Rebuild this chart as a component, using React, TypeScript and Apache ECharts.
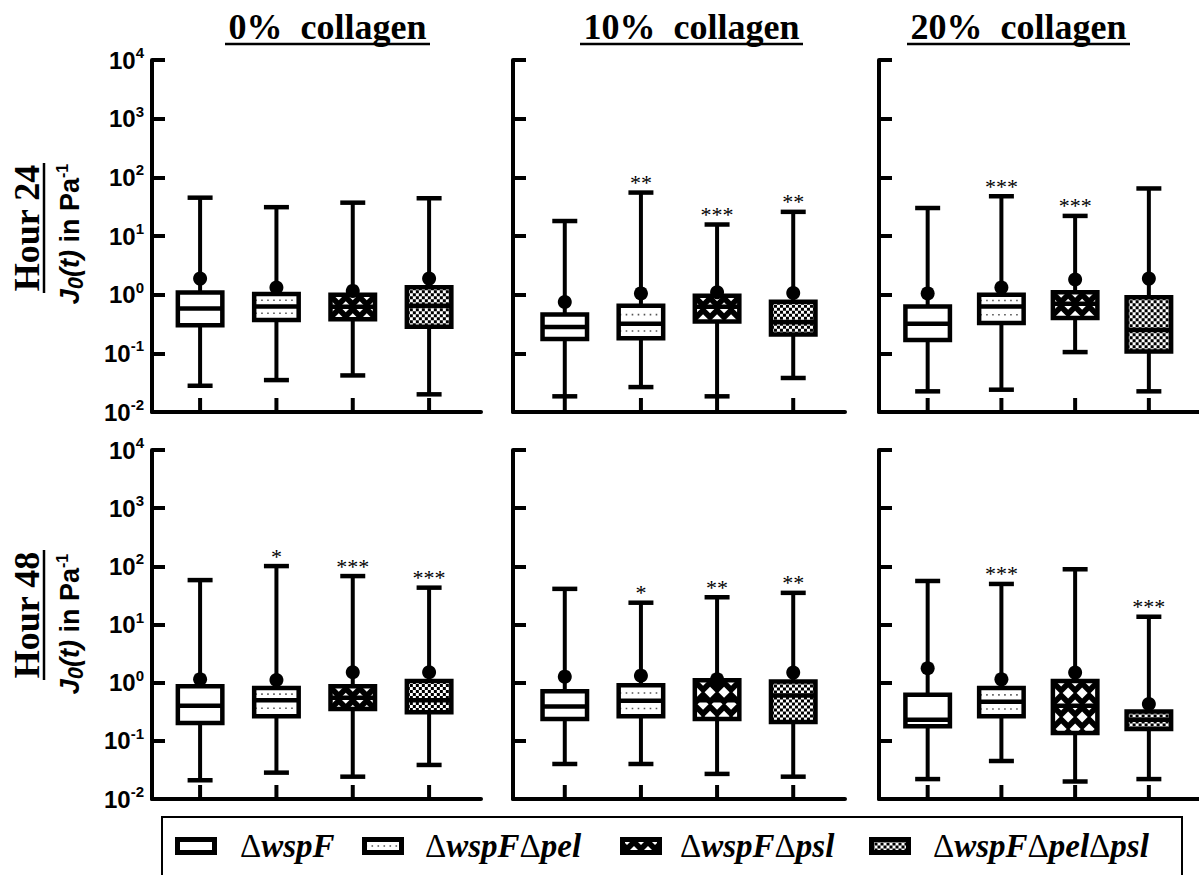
import React, { useEffect, useRef } from 'react';
import * as echarts from 'echarts';

// ---------- data ----------
const categories = ['ΔwspF', 'ΔwspFΔpel', 'ΔwspFΔpsl', 'ΔwspFΔpelΔpsl'];
const fillKinds = ['plain', 'dots', 'diamonds', 'checker'];
const panelTitles = ['0%  collagen', '10%  collagen', '20%  collagen'];
const rowTitles = ['Hour 24', 'Hour 48'];
const yMinValue = 0.01;
const yMaxValue = 10000;

// five-number summaries: [min, Q1, median, Q3, max]
const h24c0 = [
  [0.028, 0.30, 0.58, 1.09, 45],
  [0.035, 0.37, 0.63, 1.03, 31],
  [0.042, 0.38, 0.62, 1.0, 37],
  [0.020, 0.285, 0.65, 1.34, 44],
];
const h24c0Mean = [1.88, 1.32, 1.16, 1.88];
const h24c0Sig = ['', '', '', ''];

const h24c10 = [
  [0.0185, 0.175, 0.28, 0.46, 18],
  [0.0266, 0.18, 0.32, 0.65, 55],
  [0.0185, 0.35, 0.62, 0.96, 15.7],
  [0.038, 0.21, 0.34, 0.76, 25.8],
];
const h24c10Mean = [0.75, 1.05, 1.1, 1.07];
const h24c10Sig = ['', '**', '***', '**'];

const h24c20 = [
  [0.0225, 0.169, 0.32, 0.63, 30],
  [0.024, 0.33, 0.63, 1.0, 47.6],
  [0.105, 0.40, 0.70, 1.1, 22],
  [0.0225, 0.107, 0.25, 0.9, 64.6],
];
const h24c20Mean = [1.05, 1.32, 1.81, 1.88];
const h24c20Sig = ['', '***', '***', ''];

const h48c0 = [
  [0.021, 0.203, 0.40, 0.87, 58],
  [0.0284, 0.264, 0.50, 0.81, 101],
  [0.0242, 0.353, 0.55, 0.87, 68],
  [0.0385, 0.31, 0.50, 1.07, 43],
];
const h48c0Mean = [1.14, 1.11, 1.51, 1.51];
const h48c0Sig = ['', '*', '***', '***'];

const h48c10 = [
  [0.04, 0.238, 0.39, 0.71, 41],
  [0.04, 0.264, 0.49, 0.90, 23.7],
  [0.027, 0.238, 0.50, 1.1, 29.4],
  [0.0242, 0.21, 0.60, 1.05, 35],
];
const h48c10Mean = [1.27, 1.32, 1.14, 1.49];
const h48c10Sig = ['', '*', '**', '**'];

const h48c20 = [
  [0.022, 0.178, 0.23, 0.62, 56],
  [0.045, 0.264, 0.47, 0.81, 49.8],
  [0.02, 0.136, 0.40, 1.07, 89],
  [0.022, 0.16, 0.23, 0.32, 13.6],
];
const h48c20Mean = [1.77, 1.14, 1.49, 0.43];
const h48c20Sig = ['', '***', '', '***'];

const panels = [
  { stats: h24c0, mean: h24c0Mean, sig: h24c0Sig },
  { stats: h24c10, mean: h24c10Mean, sig: h24c10Sig },
  { stats: h24c20, mean: h24c20Mean, sig: h24c20Sig },
  { stats: h48c0, mean: h48c0Mean, sig: h48c0Sig },
  { stats: h48c10, mean: h48c10Mean, sig: h48c10Sig },
  { stats: h48c20, mean: h48c20Mean, sig: h48c20Sig },
];

// ---------- layout ----------
const gridLeft = [152, 513, 879];
const gridWidth = [329, 332, 330];
const rowTop = [60, 450];
const rowHeight = [352, 349];
const xMinArr = [-0.63, -0.68, -0.66];
const xMaxArr = [3.68, 3.68, 3.68];

const SERIF = '"Liberation Serif", "Times New Roman", serif';
const SANS = '"Liberation Sans", Arial, sans-serif';

// ---------- pattern helpers ----------
function clipPoly(pts: number[][], x0: number, y0: number, x1: number, y1: number) {
  const planes = [
    { inside: (p: number[]) => p[0] >= x0, inter: (a: number[], b: number[]) => { const t = (x0 - a[0]) / (b[0] - a[0]); return [x0, a[1] + t * (b[1] - a[1])]; } },
    { inside: (p: number[]) => p[0] <= x1, inter: (a: number[], b: number[]) => { const t = (x1 - a[0]) / (b[0] - a[0]); return [x1, a[1] + t * (b[1] - a[1])]; } },
    { inside: (p: number[]) => p[1] >= y0, inter: (a: number[], b: number[]) => { const t = (y0 - a[1]) / (b[1] - a[1]); return [a[0] + t * (b[0] - a[0]), y0]; } },
    { inside: (p: number[]) => p[1] <= y1, inter: (a: number[], b: number[]) => { const t = (y1 - a[1]) / (b[1] - a[1]); return [a[0] + t * (b[0] - a[0]), y1]; } },
  ];
  let out = pts;
  for (const pl of planes) {
    const inp = out;
    out = [];
    if (!inp.length) break;
    for (let i = 0; i < inp.length; i++) {
      const cur = inp[i];
      const prev = inp[(i + inp.length - 1) % inp.length];
      const ci = pl.inside(cur);
      const pi = pl.inside(prev);
      if (ci) {
        if (!pi) out.push(pl.inter(prev, cur));
        out.push(cur);
      } else if (pi) {
        out.push(pl.inter(prev, cur));
      }
    }
  }
  return out;
}

function fillElements(kind: string, x0: number, y0: number, x1: number, y1: number, yMed: number | null) {
  const els: any[] = [];
  const w = x1 - x0;
  const h = y1 - y0;
  if (h <= 0 || w <= 0) return els;
  if (kind === 'diamonds') {
    els.push({ type: 'rect', shape: { x: x0, y: y0, width: w, height: h }, style: { fill: '#000' } });
    const xc = (x0 + x1) / 2;
    const P = 14, V = 12, r = 5.5;
    for (let j = 0; y0 + j * V - r <= y1; j++) {
      const cy = y0 + j * V;
      const off = j % 2 ? P / 2 : 0;
      for (let k = -5; k <= 5; k++) {
        const cxd = xc + k * P + off;
        if (cxd + r < x0 || cxd - r > x1) continue;
        const pts = clipPoly([[cxd, cy - r], [cxd + r, cy], [cxd, cy + r], [cxd - r, cy]], x0, y0, x1, y1);
        if (pts.length >= 3) els.push({ type: 'polygon', shape: { points: pts }, style: { fill: '#fff' } });
      }
    }
    return els;
  }
  els.push({ type: 'rect', shape: { x: x0, y: y0, width: w, height: h }, style: { fill: '#fff' } });
  if (kind === 'dots') {
    const sections = yMed == null ? [[y0, y1]] : [[y0, yMed], [yMed, y1]];
    for (const [a, b] of sections) {
      const yy = (a + b) / 2;
      els.push({
        type: 'line',
        shape: { x1: x0 + 1, y1: yy, x2: x1 - 1, y2: yy },
        style: { stroke: '#555', lineWidth: 1.6, lineDash: [1.6, 4.4] },
      });
    }
  } else if (kind === 'checker') {
    const c = 3;
    let r = 0;
    for (let y = y0; y < y1; y += c, r++) {
      const hh = Math.min(c, y1 - y);
      els.push({
        type: 'line',
        shape: { x1: x0, y1: y + hh / 2, x2: x1, y2: y + hh / 2 },
        style: { stroke: '#000', lineWidth: hh, lineDash: [c, c], lineDashOffset: r % 2 ? c : 0 },
      });
    }
  }
  return els;
}

const BOX_HALF = 22.25;
const BOX_STROKE = 4.5;
const CAP_HALF = 12.5;
const LINE_W = 4;

function makeRenderItem(panelIndex: number) {
  return (params: any, api: any) => {
    const x = api.value(0);
    const vMin = api.value(1), q1 = api.value(2), med = api.value(3), q3 = api.value(4), vMax = api.value(5), mean = api.value(6);
    const pMin = api.coord([x, vMin]);
    const cx = pMin[0];
    const yMin = pMin[1];
    const yQ1 = api.coord([x, q1])[1];
    const yMed = api.coord([x, med])[1];
    const yQ3 = api.coord([x, q3])[1];
    const yMax = api.coord([x, vMax])[1];
    const yMean = api.coord([x, mean])[1];
    const axisY = api.coord([x, yMinValue])[1];
    const kind = fillKinds[params.dataIndex];
    const sig = panels[panelIndex].sig[params.dataIndex];
    const black = { stroke: '#000', lineWidth: LINE_W };
    const children: any[] = [];
    children.push({ type: 'line', shape: { x1: cx, y1: axisY, x2: cx, y2: axisY - 14 }, style: black });
    children.push({ type: 'line', shape: { x1: cx, y1: yMax, x2: cx, y2: yQ3 }, style: black });
    children.push({ type: 'line', shape: { x1: cx, y1: yQ1, x2: cx, y2: yMin }, style: black });
    children.push({ type: 'line', shape: { x1: cx - CAP_HALF, y1: yMax, x2: cx + CAP_HALF, y2: yMax }, style: { stroke: '#000', lineWidth: 4.5 } });
    children.push({ type: 'line', shape: { x1: cx - CAP_HALF, y1: yMin, x2: cx + CAP_HALF, y2: yMin }, style: { stroke: '#000', lineWidth: 4.5 } });
    children.push(...fillElements(kind, cx - BOX_HALF, yQ3, cx + BOX_HALF, yQ1, yMed));
    children.push({ type: 'rect', shape: { x: cx - BOX_HALF, y: yQ3, width: 2 * BOX_HALF, height: yQ1 - yQ3 }, style: { fill: 'none', stroke: '#000', lineWidth: BOX_STROKE } });
    children.push({ type: 'line', shape: { x1: cx - BOX_HALF, y1: yMed, x2: cx + BOX_HALF, y2: yMed }, style: { stroke: '#000', lineWidth: BOX_STROKE } });
    children.push({ type: 'circle', shape: { cx, cy: yMean, r: 7 }, style: { fill: '#000' } });
    if (sig) {
      children.push({
        type: 'text',
        style: { text: sig, x: cx, y: yMax - 10, align: 'center', verticalAlign: 'middle', font: `22px ${SERIF}`, fill: '#000' },
      });
    }
    return { type: 'group', children };
  };
}

function legendRich(name: string) {
  return name.split('Δ').filter(Boolean).map((p) => `{d|Δ}{i|${p}}`).join('');
}

function buildOption() {
  const grid: any[] = [];
  const xAxis: any[] = [];
  const yAxis: any[] = [];
  const series: any[] = [];
  for (let p = 0; p < 6; p++) {
    const row = Math.floor(p / 3);
    const col = p % 3;
    grid.push({ left: gridLeft[col], top: rowTop[row], width: gridWidth[col], height: rowHeight[row] });
    xAxis.push({
      type: 'value', gridIndex: p, min: xMinArr[col], max: xMaxArr[col],
      axisLine: { show: true, onZero: false, lineStyle: { color: '#000', width: 4 } },
      axisTick: { show: false }, axisLabel: { show: false }, splitLine: { show: false },
    });
    yAxis.push({
      type: 'log', logBase: 10, gridIndex: p, min: yMinValue, max: yMaxValue, splitNumber: 6,
      axisLine: { show: true, onZero: false, lineStyle: { color: '#000', width: 4 } },
      axisTick: { show: true, inside: true, length: 13, lineStyle: { color: '#000', width: 4 } },
      splitLine: { show: false },
      axisLabel: {
        show: col === 0,
        margin: 8,
        formatter: (v: number) => `{b|10}{s|${Math.round(Math.log10(v))}}`,
        rich: {
          b: { fontSize: 24, fontWeight: 'bold', fontFamily: SANS, color: '#000', lineHeight: 30 },
          s: { fontSize: 15, fontWeight: 'bold', fontFamily: SANS, color: '#000', lineHeight: 15, verticalAlign: 'top' },
        },
      },
    });
    const pd = panels[p];
    series.push({
      type: 'custom', xAxisIndex: p, yAxisIndex: p, clip: false, silent: true,
      data: pd.stats.map((s, i) => [i, ...s, pd.mean[i]]),
      renderItem: makeRenderItem(p),
    });
  }

  const g: any[] = [];
  const titleSpans = [[225, 430], [580, 803], [907, 1130]];
  panelTitles.forEach((t, i) => {
    const [a, b] = titleSpans[i];
    g.push({ type: 'text', x: (a + b) / 2, y: 27, style: { text: t, align: 'center', verticalAlign: 'middle', font: `bold 36px ${SERIF}`, fill: '#000' } });
    g.push({ type: 'line', shape: { x1: a, y1: 44, x2: b, y2: 44 }, style: { stroke: '#000', lineWidth: 2.5 } });
  });
  const rowCenters = [228, 615];
  const rowSpans = [[163, 293], [550, 680]];
  const jCenters = [234, 624];
  rowTitles.forEach((t, i) => {
    g.push({ type: 'text', x: 27, y: rowCenters[i], rotation: Math.PI / 2, style: { text: t, align: 'center', verticalAlign: 'middle', font: `bold 36px ${SERIF}`, fill: '#000' } });
    g.push({ type: 'line', shape: { x1: 44, y1: rowSpans[i][0], x2: 44, y2: rowSpans[i][1] }, style: { stroke: '#000', lineWidth: 2.5 } });
    g.push({
      type: 'text', x: 70, y: jCenters[i], rotation: Math.PI / 2,
      style: {
        text: '{i|J}{sub|0}{i|(t)}{n| in Pa}{sup|-1}', align: 'center', verticalAlign: 'middle',
        rich: {
          i: { fontFamily: SANS, fontWeight: 'bold', fontStyle: 'italic', fontSize: 27, lineHeight: 32, color: '#000' },
          sub: { fontFamily: SANS, fontWeight: 'bold', fontStyle: 'italic', fontSize: 22, lineHeight: 26, verticalAlign: 'bottom', color: '#000' },
          n: { fontFamily: SANS, fontWeight: 'bold', fontSize: 27, lineHeight: 32, color: '#000' },
          sup: { fontFamily: SANS, fontWeight: 'bold', fontSize: 16, lineHeight: 16, verticalAlign: 'top', color: '#000' },
        },
      },
    });
  });

  // legend
  g.push({ type: 'rect', shape: { x: 162, y: 817, width: 1020, height: 100 }, style: { fill: 'none', stroke: '#000', lineWidth: 2 } });
  const symLeft = [175, 362, 620, 869];
  const textLeft = [240, 425, 680, 933];
  categories.forEach((name, i) => {
    const sx = symLeft[i] + 2.5, sy = 839.5, sw = 37, sh = 13;
    g.push(...fillElements(fillKinds[i], sx, sy, sx + sw, sy + sh, null));
    g.push({ type: 'rect', shape: { x: sx, y: sy, width: sw, height: sh }, style: { fill: 'none', stroke: '#000', lineWidth: 5 } });
    g.push({
      type: 'text', x: textLeft[i], y: 846,
      style: {
        text: legendRich(name), align: 'left', verticalAlign: 'middle',
        rich: {
          d: { fontFamily: SERIF, fontSize: 33, color: '#000' },
          i: { fontFamily: SERIF, fontSize: 33, fontWeight: 'bold', fontStyle: 'italic', color: '#000' },
        },
      },
    });
  });

  return {
    animation: false,
    backgroundColor: '#fff',
    grid, xAxis, yAxis, series,
    graphic: { elements: g.map((e) => ({ ...e, silent: true })) },
  };
}

export default function App() {
  const ref = useRef<HTMLDivElement>(null);
  useEffect(() => {
    if (!ref.current) return;
    const chart = echarts.init(ref.current, null, { renderer: 'svg' });
    chart.setOption(buildOption() as any);
    return () => chart.dispose();
  }, []);
  return <div ref={ref} style={{ position: 'fixed', left: 0, top: 0, width: 1199, height: 875, background: '#fff' }} />;
}
